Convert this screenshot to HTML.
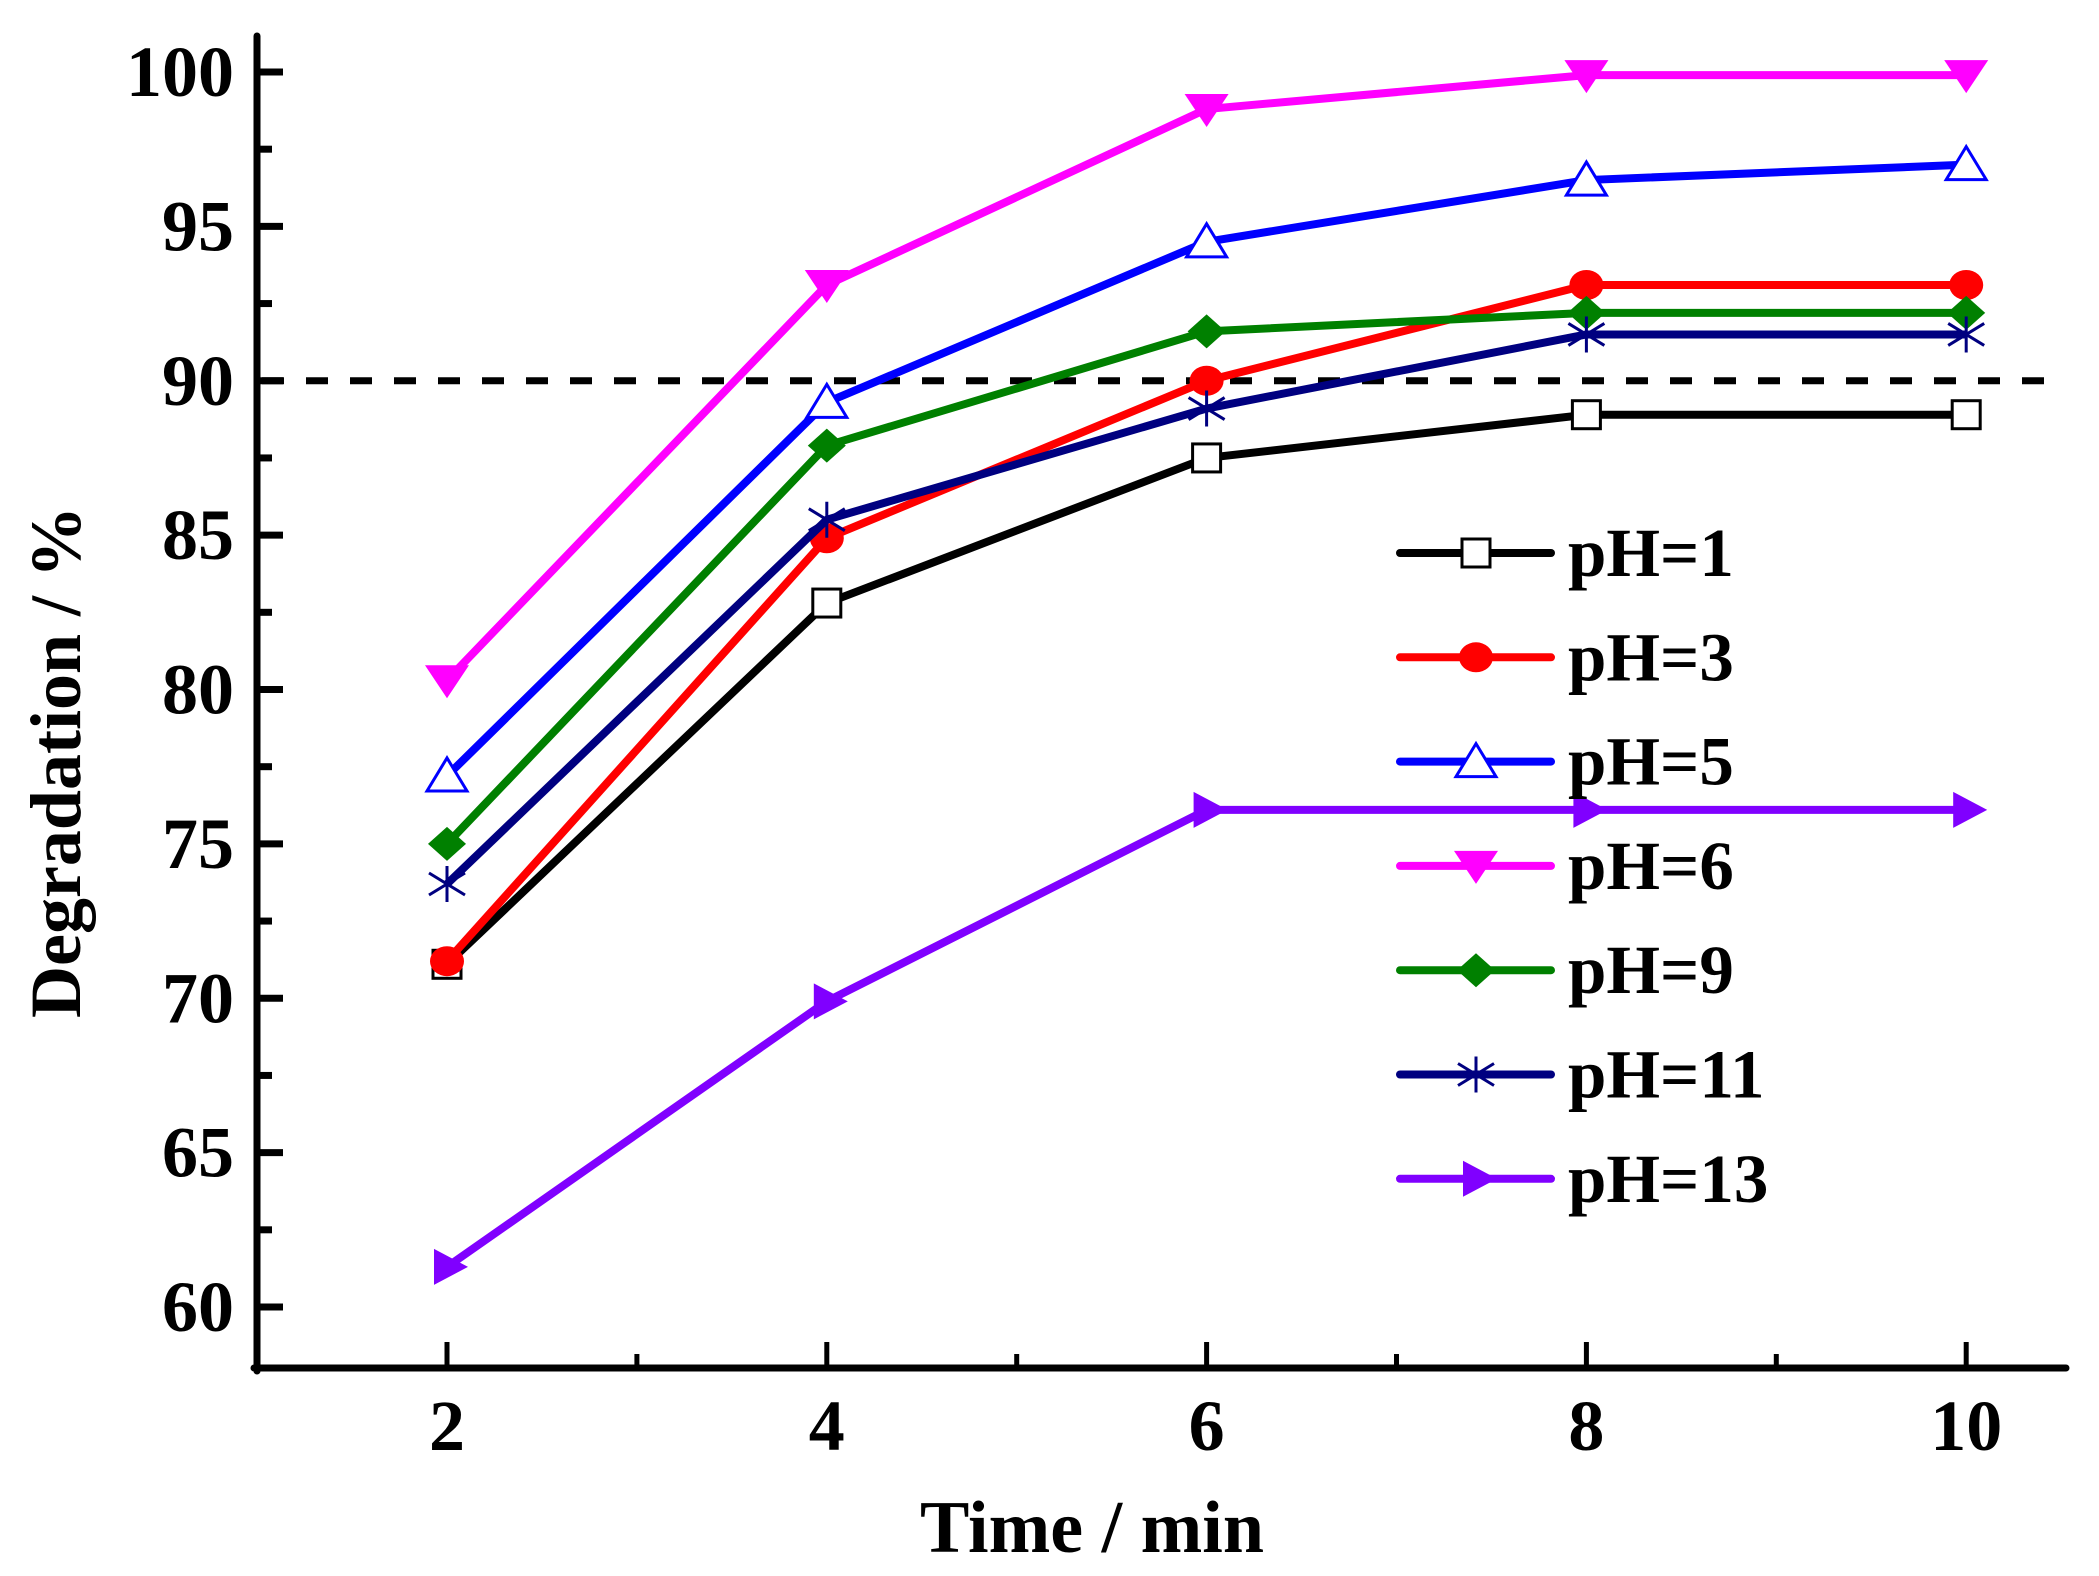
<!DOCTYPE html>
<html><head><meta charset="utf-8"><style>
body{margin:0;background:#fff}
svg text{font-family:"Liberation Serif",serif;font-weight:bold;fill:#000}
</style></head><body>
<svg id="chart" width="2099" height="1571" xmlns="http://www.w3.org/2000/svg">
<g id="axes"></g>
<g id="series"></g>
<g id="legend"></g>
</svg>
<script>
const times=[2,4,6,8,10];
const pH1=[71.1,82.8,87.5,88.9,88.9];
const pH3=[71.2,84.9,90.0,93.1,93.1];
const pH5=[77.2,89.3,94.5,96.5,97.0];
const pH6=[80.3,93.1,98.8,99.9,99.9];
const pH9=[75.0,87.9,91.6,92.2,92.2];
const pH11=[73.7,85.5,89.1,91.5,91.5];
const pH13=[61.3,69.9,76.1,76.1,76.1];
const yTicks=[60,65,70,75,80,85,90,95,100];
const xTicks=[2,4,6,8,10];
const threshold=90;
const seriesLabels=["pH=1","pH=3","pH=5","pH=6","pH=9","pH=11","pH=13"];

const NS="http://www.w3.org/2000/svg";
function X(t){return 447+(t-2)*189.9;}
function Y(v){return 72+(100-v)*30.875;}
function mk(tag,attrs,parent){const e=document.createElementNS(NS,tag);for(const k in attrs)e.setAttribute(k,attrs[k]);parent.appendChild(e);return e;}
const axes=document.getElementById('axes'),ser=document.getElementById('series'),leg=document.getElementById('legend');

let e;
e=mk('line',{x1:257,y1:36,x2:257,y2:1371,stroke:'#000','stroke-width':7,'stroke-linecap':'round'},axes);


e=mk('line',{x1:254,y1:1368,x2:2066,y2:1368,stroke:'#000','stroke-width':7,'stroke-linecap':'round'},axes);


yTicks.forEach((v,i)=>{
  e=mk('line',{x1:257,y1:Y(v),x2:283,y2:Y(v),stroke:'#000','stroke-width':7},axes);
  
  
  if(i<yTicks.length-1){e=mk('line',{x1:257,y1:Y(v+2.5),x2:272,y2:Y(v+2.5),stroke:'#000','stroke-width':7},axes);
  
  }
  e=mk('text',{x:234,y:Y(v)+24,'text-anchor':'end','font-size':72},axes);e.textContent=v;
  
  
});
xTicks.forEach((t,i)=>{
  e=mk('line',{x1:X(t),y1:1368,x2:X(t),y2:1342,stroke:'#000','stroke-width':5},axes);
  
  
  if(i<xTicks.length-1){e=mk('line',{x1:X(t+1),y1:1368,x2:X(t+1),y2:1354,stroke:'#000','stroke-width':5},axes);
  
  }
  e=mk('text',{x:X(t),y:1450,'text-anchor':'middle','font-size':72},axes);e.textContent=t;
  
  
});
e=mk('text',{x:1092,y:1552,'text-anchor':'middle','font-size':74},axes);e.textContent='Time / min';


e=mk('text',{x:0,y:0,'text-anchor':'middle','font-size':72,transform:'translate(80,762) rotate(-90)'},axes);e.textContent='Degradation / %';


e=mk('line',{x1:262,y1:Y(threshold),x2:2066,y2:Y(threshold),stroke:'#000','stroke-width':7,'stroke-dasharray':'22 22'},axes);



function marker(type,color,cx,cy,parent){
  let m;
  if(type==='square')m=mk('rect',{x:cx-14,y:cy-14,width:28,height:28,fill:'#fff',stroke:color,'stroke-width':3},parent);
  else if(type==='circle')m=mk('ellipse',{cx:cx,cy:cy,rx:17,ry:15,fill:color},parent);
  else if(type==='tri')m=mk('polygon',{points:`${cx},${cy-18} ${cx+20},${cy+15} ${cx-20},${cy+15}`,fill:'#fff',stroke:color,'stroke-width':3},parent);
  else if(type==='tridown')m=mk('polygon',{points:`${cx-22},${cy-15} ${cx+22},${cy-15} ${cx},${cy+18}`,fill:color},parent);
  else if(type==='diamond')m=mk('polygon',{points:`${cx},${cy-17} ${cx+19},${cy} ${cx},${cy+17} ${cx-19},${cy}`,fill:color},parent);
  else if(type==='star'){m=mk('path',{d:`M${cx},${cy-18}V${cy+18}M${cx-18},${cy-11}L${cx+18},${cy+11}M${cx-18},${cy+11}L${cx+18},${cy-11}`,stroke:color,'stroke-width':3,fill:'none'},parent);}
  else m=mk('polygon',{points:`${cx-13},${cy-18} ${cx+21},${cy} ${cx-13},${cy+18}`,fill:color},parent);
  
  
}
const allSeries=[pH1,pH3,pH5,pH6,pH9,pH11,pH13];
const colors=['#000','#ff0000','#0000ff','#ff00ff','#008000','#000080','#8000ff'];
const types=['square','circle','tri','tridown','diamond','star','arrow'];
const order=[0,1,4,5,2,3,6];
order.forEach(i=>{
  const g=mk('g',{},ser);
  
  
  const d=allSeries[i].map((v,j)=>(j?'L':'M')+X(times[j])+','+Y(v)).join('');
  e=mk('path',{d:d,stroke:colors[i],'stroke-width':8,fill:'none','stroke-linejoin':'round'},g);
  
  
  allSeries[i].forEach((v,j)=>marker(types[i],colors[i],X(times[j]),Y(v),g));
});
seriesLabels.forEach((lab,i)=>{
  const y=553+i*104.3;
  const g=mk('g',{},leg);
  
  
  e=mk('line',{x1:1400,y1:y,x2:1551,y2:y,stroke:colors[i],'stroke-width':8,'stroke-linecap':'round'},g);
  
  
  marker(types[i],colors[i],1476,y,g);
  e=mk('text',{x:1568,y:y+23,'font-size':69},g);e.textContent=lab;
  
  
});
</script>
</body></html>
